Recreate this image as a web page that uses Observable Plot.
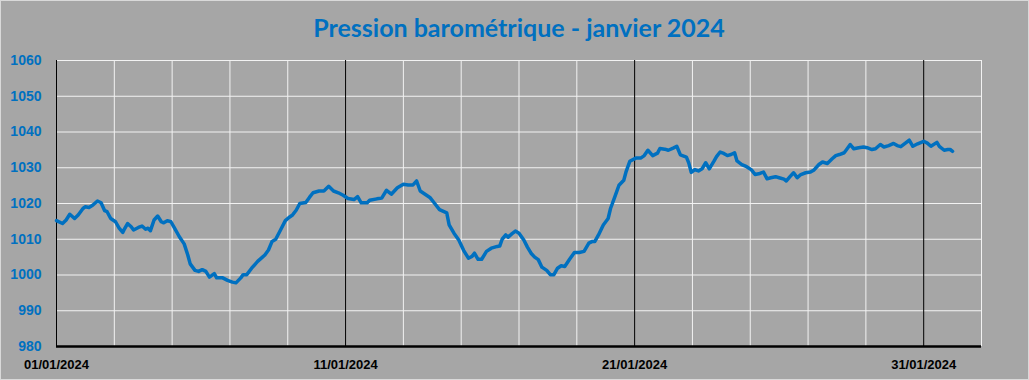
<!DOCTYPE html>
<html>
<head>
<meta charset="utf-8">
<script src="https://cdn.jsdelivr.net/npm/d3@7"></script>
<script src="https://cdn.jsdelivr.net/npm/@observablehq/plot@0.6"></script>
<style>
  html, body { margin: 0; padding: 0; background: #a6a6a6; }
  #chart svg { display: block; outline: 1px solid #d9d9d9; outline-offset: -1px; }
</style>
</head>
<body>
<div id="chart"></div>
<script>
const title = "Pression barométrique - janvier 2024";

// hours elapsed since 01/01/2024 00:00
const hours = [0,5,8,11,15,18,22,24,27,30,34,37,40,42,45,49,52,55,56,59,62,64,68,71,74,76,78,81,84,87,89,92,95,98,102,106,109,111,115,118,121,124,127,131,133,138,142,146,149,153,155,158,162,167,171,173,176,179,182,186,190,193,196,199,202,207,210,213,218,222,226,230,234,238,242,247,250,253,258,260,266,270,274,278,283,288,292,296,299,302,306,310,314,318,324,326,330,334,338,342,345,347,350,353,357,361,366,368,370,373,375,378,381,384,388,391,394,397,400,403,407,410,413,416,419,422,426,430,434,438,442,445,447,450,454,458,460,464,467,471,473,476,481,485,488,491,495,499,501,505,508,512,515,518,523,525,527,530,533,536,539,542,546,548,551,554,557,560,563,565,569,573,577,580,584,587,590,593,597,600,604,606,609,612,615,618,622,626,629,633,636,640,644,647,650,654,656,659,662,666,670,673,677,680,684,687,691,695,698,701,704,708,711,715,720,723,726,731,733,737,740,742,744];

// pressure in hPa
const pressure = [1015.2,1014.4,1015.4,1017.0,1015.8,1016.8,1018.6,1019.1,1018.9,1019.5,1020.7,1020.2,1018.0,1017.7,1015.8,1014.9,1013.1,1011.9,1012.6,1014.4,1013.5,1012.6,1013.3,1013.7,1012.8,1013.1,1012.4,1015.4,1016.5,1014.9,1014.6,1015.2,1014.9,1013.1,1010.7,1008.7,1005.6,1003.1,1001.3,1001.0,1001.5,1001.0,999.4,1000.4,999.2,999.2,998.5,998.0,997.8,999.2,1000.1,1000.1,1001.9,1003.8,1005.0,1005.6,1007.0,1009.4,1010.0,1012.6,1015.2,1016.1,1016.8,1018.1,1020.0,1020.3,1021.7,1023.0,1023.5,1023.5,1024.8,1023.5,1023.0,1022.3,1021.4,1021.1,1021.9,1020.2,1020.2,1020.9,1021.3,1021.5,1023.7,1022.6,1024.4,1025.4,1025.2,1025.2,1026.3,1023.5,1022.6,1021.7,1020.0,1018.3,1017.4,1014.0,1011.7,1009.8,1006.9,1004.7,1005.2,1006.1,1004.4,1004.4,1006.6,1007.5,1008.0,1008.1,1010.0,1011.2,1010.6,1011.5,1012.3,1011.7,1009.8,1007.8,1006.1,1005.0,1004.3,1002.2,1001.3,1000.1,1000.1,1001.9,1002.6,1002.4,1004.4,1006.3,1006.3,1006.6,1008.9,1009.4,1009.4,1011.2,1014.0,1015.8,1018.6,1022.3,1025.1,1026.5,1029.0,1031.8,1032.7,1032.7,1033.4,1034.9,1033.4,1034.1,1035.4,1035.2,1034.9,1035.5,1036.0,1033.6,1033.0,1031.3,1028.7,1029.5,1029.1,1029.7,1031.4,1029.7,1031.9,1033.1,1034.4,1034.0,1033.4,1033.7,1034.2,1031.9,1030.9,1030.3,1029.4,1028.1,1028.4,1028.8,1026.9,1027.2,1027.5,1027.2,1026.8,1026.3,1027.5,1028.6,1027.2,1028.1,1028.6,1028.8,1029.4,1030.9,1031.6,1031.2,1032.5,1033.4,1033.7,1034.2,1035.1,1036.5,1035.3,1035.6,1035.8,1035.6,1035.1,1035.3,1036.5,1035.8,1036.2,1036.8,1036.2,1035.9,1036.7,1037.7,1036.0,1036.7,1037.4,1036.9,1036.0,1037.1,1036.0,1034.9,1035.1,1035.1,1034.6];

const yTicks = [980, 990, 1000, 1010, 1020, 1030, 1040, 1050, 1060];
const xLabelDates = ["2024-01-01", "2024-01-11", "2024-01-21", "2024-01-31"];
const gridDates = ["2024-01-03","2024-01-05","2024-01-07","2024-01-09","2024-01-13","2024-01-15","2024-01-17","2024-01-19","2024-01-23","2024-01-25","2024-01-27","2024-01-29","2024-02-02"];
const majorDates = ["2024-01-01", "2024-01-11", "2024-01-21", "2024-01-31"];
const xDomain = ["2024-01-01", "2024-02-02"];

const toDate = s => new Date(s + "T00:00:00Z");
const start = toDate("2024-01-01");
const data = hours.map((h, i) => ({date: new Date(+start + h * 3600e3), value: pressure[i]}));

const blue = "#0070c0";
const grid = "#f2f2f2";

const chart = Plot.plot({
  width: 1029,
  height: 380,
  marginLeft: 56,
  marginRight: 48,
  marginTop: 60,
  marginBottom: 34,
  style: {background: "#a6a6a6", fontFamily: "'Liberation Sans', Arial, sans-serif", overflow: "visible"},
  x: {type: "utc", domain: xDomain.map(toDate)},
  y: {domain: [980, 1060]},
  marks: [
    Plot.ruleY(yTicks.slice(1), {stroke: grid, strokeWidth: 1}),
    Plot.ruleX(gridDates.map(toDate), {stroke: grid, strokeWidth: 1}),
    Plot.ruleX(majorDates.map(toDate), {stroke: "black", strokeWidth: 1}),
    Plot.line(data, {x: "date", y: "value", stroke: blue, strokeWidth: 3.5, strokeLinejoin: "round", strokeLinecap: "round"}),
    Plot.ruleY([980], {stroke: "black", strokeWidth: 2.5}),
    Plot.axisY(yTicks, {tickSize: 0, tickPadding: 15, color: blue, fontWeight: "bold", fontSize: 14, label: null, tickFormat: d => String(d)}),
    Plot.axisX(xLabelDates.map(toDate), {tickSize: 0, tickPadding: 13, color: "black", fontWeight: "bold", fontSize: 13, label: null, tickFormat: d3.utcFormat("%d/%m/%Y")}),
    Plot.text([title], {frameAnchor: "top", dy: -24, lineAnchor: "bottom", fill: blue, fontSize: 25, fontWeight: "bold", fontFamily: "Lato, 'Open Sans', sans-serif", ariaLabel: "title"})
  ]
});

d3.select(chart).selectAll("g[aria-label='title'] text")
  .attr("textLength", 410)
  .attr("lengthAdjust", "spacingAndGlyphs");

document.getElementById("chart").append(chart);
</script>
</body>
</html>
